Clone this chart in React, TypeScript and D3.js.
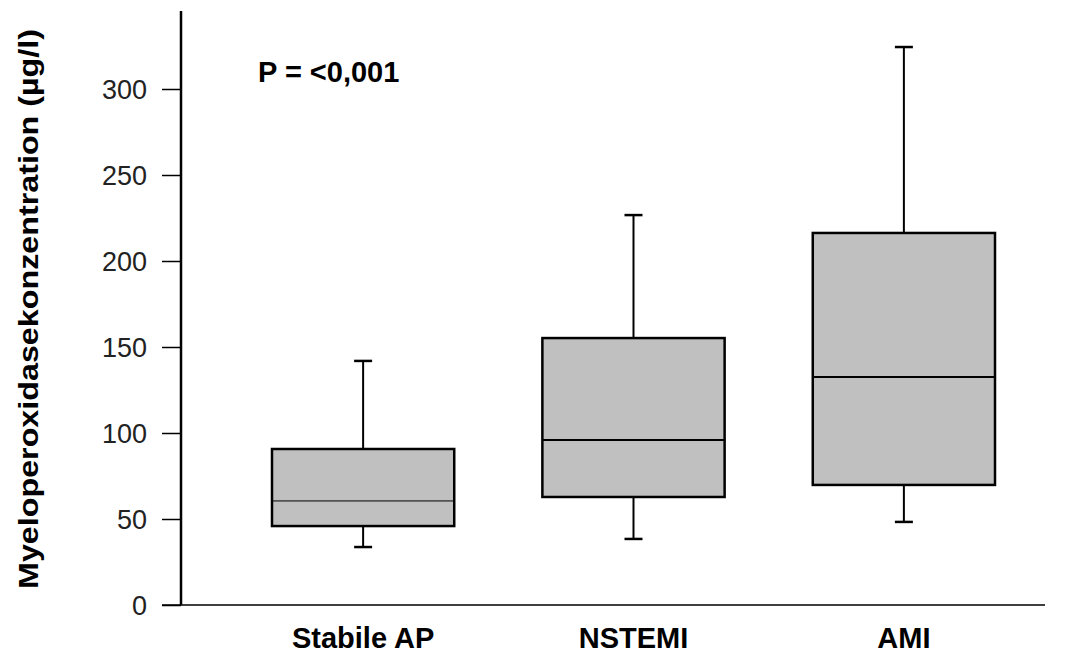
import * as d3 from "d3";
import { useRef, useEffect } from "react";

const categories = ["Stabile AP", "NSTEMI", "AMI"];
const whiskerLow = [33.7, 38.4, 48.3];
const q1 = [45.9, 62.8, 69.8];
const median = [60.5, 95.9, 132.6];
const q3 = [90.7, 155.2, 216.3];
const whiskerHigh = [141.9, 226.7, 324.4];
const medianWidth = [1, 2, 2];
const yTicks = [0, 50, 100, 150, 200, 250, 300];

const width = 1081;
const height = 654;

const App = () => {
    const svgRef = useRef<SVGSVGElement>(null);

    useEffect(() => {
        const svg = d3.select(svgRef.current);
        svg.selectAll("*").remove();

        const font = "'Liberation Sans', Arial, sans-serif";
        const left = 181;
        const bottom = 605;

        const y = d3.scaleLinear().domain([0, 300]).range([bottom, 89]);
        const x = d3.scaleBand()
            .domain(categories)
            .range([272, 995])
            .paddingInner(0.326)
            .paddingOuter(0);

        // y axis
        const yAxis = d3.axisLeft(y)
            .tickValues(yTicks)
            .tickSize(19)
            .tickPadding(15);
        const gy = svg.append("g")
            .attr("transform", `translate(${left},0)`)
            .call(yAxis);
        gy.select(".domain").remove();
        gy.selectAll(".tick line").attr("stroke", "#000").attr("stroke-width", 1.5);
        gy.selectAll(".tick text")
            .attr("font-family", font)
            .attr("font-size", 27)
            .attr("dy", "0.36em")
            .attr("fill", "#222");

        svg.append("line")
            .attr("x1", left).attr("x2", left)
            .attr("y1", 11).attr("y2", bottom)
            .attr("stroke", "#000").attr("stroke-width", 2.5);
        svg.append("line")
            .attr("x1", 162).attr("x2", 1045)
            .attr("y1", bottom).attr("y2", bottom)
            .attr("stroke", "#000").attr("stroke-width", 1.5);

        // y title
        svg.append("text")
            .attr("transform", `translate(38, 309) rotate(-90)`)
            .attr("text-anchor", "middle")
            .attr("font-family", font)
            .attr("font-weight", "bold")
            .attr("font-size", 28)
            .attr("textLength", 560)
            .attr("lengthAdjust", "spacingAndGlyphs")
            .text("Myeloperoxidasekonzentration (µg/l)");

        // category labels
        svg.append("g")
            .selectAll("text")
            .data(categories)
            .enter()
            .append("text")
            .attr("x", d => (x(d) ?? 0) + x.bandwidth() / 2)
            .attr("y", 648)
            .attr("text-anchor", "middle")
            .attr("font-family", font)
            .attr("font-weight", "bold")
            .attr("font-size", 29)
            .text(d => d);

        // P value
        svg.append("text")
            .attr("x", 258)
            .attr("y", 82)
            .attr("font-family", font)
            .attr("font-weight", "bold")
            .attr("font-size", 29)
            .text("P = <0,001");

        const capW = 18;
        categories.forEach((c, i) => {
            const x0 = x(c) ?? 0;
            const cx = x0 + x.bandwidth() / 2;
            const g = svg.append("g");
            // whiskers
            g.append("line")
                .attr("x1", cx).attr("x2", cx)
                .attr("y1", y(whiskerHigh[i])).attr("y2", y(q3[i]))
                .attr("stroke", "#000").attr("stroke-width", 2);
            g.append("line")
                .attr("x1", cx).attr("x2", cx)
                .attr("y1", y(q1[i])).attr("y2", y(whiskerLow[i]))
                .attr("stroke", "#000").attr("stroke-width", 2);
            g.append("line")
                .attr("x1", cx - capW / 2).attr("x2", cx + capW / 2)
                .attr("y1", y(whiskerHigh[i])).attr("y2", y(whiskerHigh[i]))
                .attr("stroke", "#000").attr("stroke-width", 2.5);
            g.append("line")
                .attr("x1", cx - capW / 2).attr("x2", cx + capW / 2)
                .attr("y1", y(whiskerLow[i])).attr("y2", y(whiskerLow[i]))
                .attr("stroke", "#000").attr("stroke-width", 2.5);
            // box
            g.append("rect")
                .attr("x", x0)
                .attr("y", y(q3[i]))
                .attr("width", x.bandwidth())
                .attr("height", y(q1[i]) - y(q3[i]))
                .attr("fill", "#c0c0c0")
                .attr("stroke", "#000")
                .attr("stroke-width", 2.5);
            g.append("line")
                .attr("x1", x0).attr("x2", x0 + x.bandwidth())
                .attr("y1", y(median[i])).attr("y2", y(median[i]))
                .attr("stroke", "#000").attr("stroke-width", medianWidth[i]);
        });
    }, []);

    return (
        <div style={{ position: "absolute", left: 0, top: 0 }}>
            <svg ref={svgRef} width={width} height={height} style={{ display: "block", background: "#fff" }} />
        </div>
    );
};

export default App;
